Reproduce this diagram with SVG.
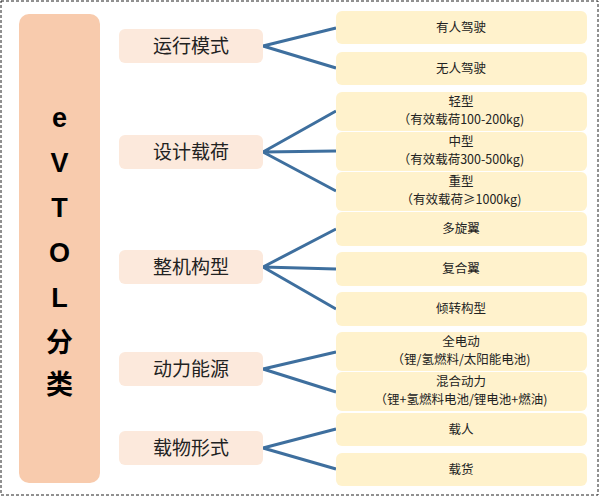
<svg xmlns="http://www.w3.org/2000/svg" width="600" height="497" viewBox="0 0 600 497">
<style>
text{font-family:"Noto Sans CJK SC","Liberation Sans",sans-serif;fill:#222;text-anchor:middle}
.c rect{fill:#fce9dc}
.c text{font-size:19px}
.r rect{fill:#fff2cc}
.r text{font-size:12.5px}
#conn path{stroke:#3e6f9e;stroke-width:3;fill:none}
</style>
<rect x="1" y="1" width="597" height="494" fill="#fff" stroke="#222" stroke-dasharray="3,2"/>
<g id="root"><rect x="19" y="14" width="81" height="469" rx="10" fill="#f8cbad"/>
<text x="59.5" y="127" style="font-family:'Liberation Sans','Noto Sans CJK SC',sans-serif;font-weight:bold;font-size:27px;fill:#000">e</text>
<text x="59.5" y="172" style="font-family:'Liberation Sans',sans-serif;font-weight:bold;font-size:27px;fill:#000">V</text>
<text x="59.5" y="217" style="font-family:'Liberation Sans',sans-serif;font-weight:bold;font-size:27px;fill:#000">T</text>
<text x="59.5" y="262" style="font-family:'Liberation Sans',sans-serif;font-weight:bold;font-size:27px;fill:#000">O</text>
<text x="59.5" y="307" style="font-family:'Liberation Sans',sans-serif;font-weight:bold;font-size:27px;fill:#000">L</text>
<text x="59.5" y="352" style="font-weight:bold;font-size:27px;fill:#000">分</text>
<text x="59.5" y="394" style="font-weight:bold;font-size:27px;fill:#000">类</text></g>
<g id="conn">
<path d="M263 46L336 28M263 46L336 68"/>
<path d="M263 152L336 111M263 152L336 151M263 152L336 191"/>
<path d="M263 267L336 229M263 267L336 269M263 267L336 309"/>
<path d="M263 369L336 352M263 369L336 392"/>
<path d="M263 448L336 429M263 448L336 469"/>
</g>
<g id="c1" class="c"><rect x="119" y="29" width="144" height="34" rx="6"/><text x="191" y="53">运行模式</text></g>
<g id="c2" class="c"><rect x="119" y="135" width="144" height="34" rx="6"/><text x="191" y="159">设计载荷</text></g>
<g id="c3" class="c"><rect x="119" y="250" width="144" height="34" rx="6"/><text x="191" y="274">整机构型</text></g>
<g id="c4" class="c"><rect x="119" y="352" width="144" height="34" rx="6"/><text x="191" y="376">动力能源</text></g>
<g id="c5" class="c"><rect x="119" y="431" width="144" height="34" rx="6"/><text x="191" y="455">载物形式</text></g>
<g id="r1" class="r"><rect x="336" y="11" width="251" height="33" rx="6"/><text x="461" y="32">有人驾驶</text></g>
<g id="r2" class="r"><rect x="336" y="52" width="251" height="33" rx="6"/><text x="461" y="73">无人驾驶</text></g>
<g id="r3" class="r"><rect x="336" y="92" width="251" height="39" rx="6"/><text x="461" y="106">轻型</text><text x="461" y="124">（有效载荷100-200kg)</text></g>
<g id="r4" class="r"><rect x="336" y="132" width="251" height="39" rx="6"/><text x="461" y="146">中型</text><text x="461" y="164">（有效载荷300-500kg)</text></g>
<g id="r5" class="r"><rect x="336" y="172" width="251" height="39" rx="6"/><text x="461" y="186">重型</text><text x="461" y="204">（有效载荷≥1000kg)</text></g>
<g id="r6" class="r"><rect x="336" y="212" width="251" height="34" rx="6"/><text x="461" y="233">多旋翼</text></g>
<g id="r7" class="r"><rect x="336" y="252" width="251" height="34" rx="6"/><text x="461" y="273">复合翼</text></g>
<g id="r8" class="r"><rect x="336" y="292" width="251" height="34" rx="6"/><text x="461" y="313">倾转构型</text></g>
<g id="r9" class="r"><rect x="336" y="332" width="251" height="39" rx="6"/><text x="461" y="346">全电动</text><text x="461" y="364">（锂/氢燃料/太阳能电池)</text></g>
<g id="r10" class="r"><rect x="336" y="372" width="251" height="39" rx="6"/><text x="461" y="386">混合动力</text><text x="461" y="404">（锂+氢燃料电池/锂电池+燃油)</text></g>
<g id="r11" class="r"><rect x="336" y="413" width="251" height="33" rx="6"/><text x="461" y="434">载人</text></g>
<g id="r12" class="r"><rect x="336" y="453" width="251" height="33" rx="6"/><text x="461" y="474">载货</text></g>
</svg>
